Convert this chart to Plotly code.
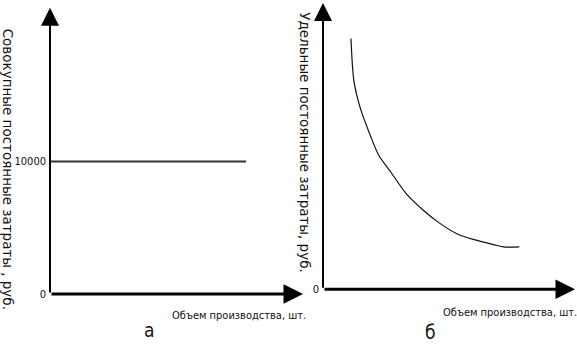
import plotly.graph_objects as go

# ---- data ----
fixed_volume = [0, 77.5]
fixed_cost = [10000, 10000]
fixed_ticks = [0, 10000]
fixed_ticktext = ["0", "10000"]

unit_volume = [11.1, 12.3, 14.9, 18.7, 22.0, 26.6, 33.1, 39.8, 46.4, 53.1, 59.6, 67.6, 71.6, 77.9]
unit_cost = [87.6, 72.5, 63.0, 53.9, 47.0, 41.3, 33.3, 27.6, 23.0, 19.4, 17.4, 15.6, 14.8, 14.8]
unit_ticks = [0]
unit_ticktext = ["0"]

x_title = "Объем производства, шт."
y_title_left = "Совокупные постоянные затраты , руб."
y_title_right = "Удельные постоянные затраты, руб."
panel_labels = ["а", "б"]

W, H = 577, 357
NARROW = "Liberation Sans Narrow, Arial Narrow, DejaVu Sans Condensed, sans-serif"
WIDE = "DejaVu Sans, Verdana, sans-serif"


def px(x):
    return x / W


def py(y):
    return 1 - y / H


fig = go.Figure()
fig.add_trace(go.Scatter(x=fixed_volume, y=fixed_cost, mode="lines",
                         line=dict(color="#333333", width=2), xaxis="x", yaxis="y",
                         showlegend=False, hoverinfo="skip"))
fig.add_trace(go.Scatter(x=unit_volume, y=unit_cost, mode="lines",
                         line=dict(color="#111111", width=1.2, shape="spline", smoothing=0.8),
                         xaxis="x2", yaxis="y2", showlegend=False, hoverinfo="skip"))

axis_common = dict(showgrid=False, zeroline=False, showline=False)
fig.update_layout(
    width=W, height=H, margin=dict(l=0, r=0, t=0, b=0),
    paper_bgcolor="white", plot_bgcolor="white",
    xaxis=dict(domain=[px(50), px(303)], range=[0, 100], showticklabels=False, ticks="", **axis_common),
    yaxis=dict(domain=[py(300), py(8)], range=[0, 21600], tickvals=fixed_ticks, ticktext=fixed_ticktext,
               ticks="", anchor="x", ticklabelstandoff=3,
               tickfont=dict(family=NARROW, size=11, color="#111"), **axis_common),
    xaxis2=dict(domain=[px(323), px(575)], range=[0, 100], showticklabels=False, ticks="",
                anchor="y2", **axis_common),
    yaxis2=dict(domain=[py(295), py(3)], range=[0, 100], tickvals=unit_ticks, ticktext=unit_ticktext,
                ticks="", anchor="x2", ticklabelstandoff=3,
                tickfont=dict(family=NARROW, size=11, color="#111"), **axis_common),
)

# axis lines with arrowheads
for xr, yr, xmax, ymax in [("x", "y", 100, 21600), ("x2", "y2", 100, 100)]:
    fig.add_annotation(x=xmax, y=0, ax=0, ay=0, xref=xr, yref=yr, axref=xr, ayref=yr,
                       text="", showarrow=True, arrowhead=2, arrowsize=1.3, arrowwidth=3,
                       arrowcolor="#000")
    fig.add_annotation(x=0, y=ymax, ax=0, ay=0, xref=xr, yref=yr, axref=xr, ayref=yr,
                       text="", showarrow=True, arrowhead=2, arrowsize=1.8, arrowwidth=2,
                       arrowcolor="#000")


def label(x, y, text, font, angle=0):
    fig.add_annotation(x=px(x), y=py(y), xref="paper", yref="paper", text=text,
                       textangle=angle, showarrow=False, xanchor="center", yanchor="middle",
                       font=font)


label(8, 172, y_title_left, dict(family=WIDE, size=13.5, color="#111"), 90)
label(305, 145, y_title_right, dict(family=WIDE, size=13.5, color="#111"), 90)
label(239, 322, x_title, dict(family=NARROW, size=11, color="#111"))
label(510, 319, x_title, dict(family=NARROW, size=11, color="#111"))
label(149, 337, panel_labels[0], dict(family=NARROW, size=19, color="#111"))
label(430, 339, panel_labels[1], dict(family=NARROW, size=19, color="#111"))

fig.write_html("out.html")
